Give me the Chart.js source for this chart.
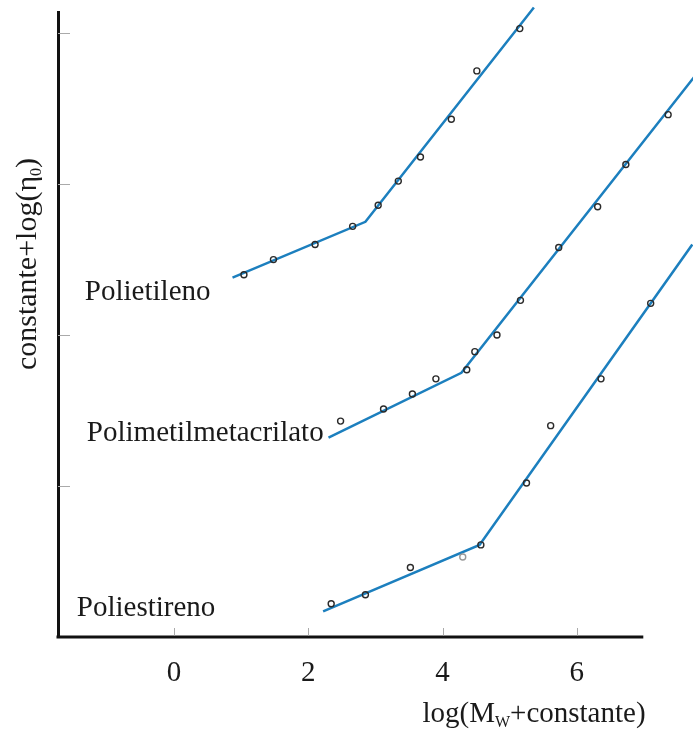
<!DOCTYPE html>
<html lang="es">
<head>
    <meta charset="UTF-8">
    <title>Viscosidad vs peso molecular</title>
    <script src="https://cdn.jsdelivr.net/npm/chart.js"></script>
    <style>
        body { margin: 0; background: #fff; }
        #wrap { width: 693px; height: 735px; }
    </style>
</head>
<body>

<div id="wrap">
    <canvas id="grafico" width="693" height="735"></canvas>
</div>

<script>
    // rectas ajustadas (inicio, quiebre, final)
    const peLineaX = [0.87, 2.85, 5.36];
    const peLineaY = [2.38, 2.75, 4.17];
    const pmmaLineaX = [2.30, 4.28, 7.75];
    const pmmaLineaY = [1.32, 1.75, 3.71];
    const psLineaX = [2.22, 4.55, 7.72];
    const psLineaY = [0.17, 0.61, 2.60];

    // puntos experimentales
    const pePuntosX = [1.04, 1.48, 2.10, 2.66, 3.04, 3.34, 3.67, 4.13, 4.51, 5.15];
    const pePuntosY = [2.40, 2.50, 2.60, 2.72, 2.86, 3.02, 3.18, 3.43, 3.75, 4.03];
    const pmmaPuntosX = [2.48, 3.12, 3.55, 3.90, 4.36, 4.48, 4.81, 5.16, 5.73, 6.31, 6.73, 7.36];
    const pmmaPuntosY = [1.43, 1.51, 1.61, 1.71, 1.77, 1.89, 2.00, 2.23, 2.58, 2.85, 3.13, 3.46];
    const psPuntosX = [2.34, 2.85, 3.52, 4.30, 4.57, 5.25, 5.61, 6.36, 7.10];
    const psPuntosY = [0.22, 0.28, 0.46, 0.53, 0.61, 1.02, 1.40, 1.71, 2.21];

    const xTicks = [0, 2, 4, 6];
    const yTicks = [1, 2, 3, 4];
    const xFinEje = 6.99; // donde termina la linea del eje x

    const nombres = ['Polietileno', 'Polimetilmetacrilato', 'Poliestireno'];
    const nombresX = [-1.33, -1.30, -1.45];
    const nombresY = [2.23, 1.30, 0.14];

    const azul = '#1c7fbe';
    const fuente = '"Liberation Serif", "Times New Roman", serif';

    function pares(xs, ys) {
        return xs.map((x, i) => ({ x: x, y: ys[i] }));
    }

    function linea(xs, ys) {
        return {
            data: pares(xs, ys),
            showLine: true,
            borderColor: azul,
            borderWidth: 2.5,
            pointRadius: 0,
            clip: false,
            order: 2
        };
    }

    function puntos(xs, ys, claro) {
        return {
            data: pares(xs, ys),
            showLine: false,
            pointRadius: 3,
            pointBorderWidth: 1.4,
            pointBorderColor: ctx => (claro === ctx.dataIndex ? '#999' : '#2a2a2a'),
            pointBackgroundColor: 'rgba(0,0,0,0)',
            clip: false,
            order: 1
        };
    }

    // eje x, marcas, nombres de las series y titulos de los ejes
    const extras = {
        id: 'extras',
        afterDraw(chart) {
            const ctx = chart.ctx;
            const sx = chart.scales.x, sy = chart.scales.y;
            const area = chart.chartArea;
            ctx.save();

            ctx.strokeStyle = '#111';
            ctx.lineWidth = 3;
            ctx.beginPath();
            ctx.moveTo(area.left - 1.5, area.bottom);
            ctx.lineTo(sx.getPixelForValue(xFinEje), area.bottom);
            ctx.stroke();

            ctx.strokeStyle = '#aaa';
            ctx.lineWidth = 1;
            xTicks.forEach(v => {
                const px = Math.round(sx.getPixelForValue(v)) + 0.5;
                ctx.beginPath();
                ctx.moveTo(px, area.bottom - 1.5);
                ctx.lineTo(px, area.bottom - 9);
                ctx.stroke();
            });
            yTicks.forEach(v => {
                const py = Math.round(sy.getPixelForValue(v)) + 0.5;
                ctx.beginPath();
                ctx.moveTo(area.left, py);
                ctx.lineTo(area.left + 12, py);
                ctx.stroke();
            });

            ctx.fillStyle = '#1a1a1a';
            ctx.font = '29px ' + fuente;
            ctx.textBaseline = 'alphabetic';
            ctx.textAlign = 'left';
            nombres.forEach((n, i) => {
                ctx.fillText(n, sx.getPixelForValue(nombresX[i]), sy.getPixelForValue(nombresY[i]));
            });

            // titulo eje x: log(M_W+constante)
            const partesX = [['log(M', 29, 0], ['W', 16, 5], ['+constante)', 29, 0]];
            dibujarTitulo(ctx, partesX, 534, 722);

            // titulo eje y: constante+log(η0)
            ctx.save();
            ctx.translate(36, 264);
            ctx.rotate(-Math.PI / 2);
            const partesY = [['constante+log(η', 30, 0], ['0', 16, 5], [')', 30, 0]];
            dibujarTitulo(ctx, partesY, 0, 0);
            ctx.restore();

            ctx.restore();
        }
    };

    function dibujarTitulo(ctx, partes, cx, base) {
        let total = 0;
        partes.forEach(p => {
            ctx.font = p[1] + 'px ' + fuente;
            total += ctx.measureText(p[0]).width;
        });
        let x = cx - total / 2;
        ctx.textAlign = 'left';
        partes.forEach(p => {
            ctx.font = p[1] + 'px ' + fuente;
            ctx.fillText(p[0], x, base + p[2]);
            x += ctx.measureText(p[0]).width;
        });
    }

    new Chart(document.getElementById('grafico'), {
        type: 'scatter',
        data: {
            datasets: [
                linea(peLineaX, peLineaY),
                linea(pmmaLineaX, pmmaLineaY),
                linea(psLineaX, psLineaY),
                puntos(pePuntosX, pePuntosY, -1),
                puntos(pmmaPuntosX, pmmaPuntosY, -1),
                puntos(psPuntosX, psPuntosY, 3)
            ]
        },
        options: {
            responsive: false,
            animation: false,
            layout: { padding: { left: 58, top: 12, right: 0, bottom: 0 } },
            plugins: { legend: { display: false }, tooltip: { enabled: false } },
            scales: {
                x: {
                    type: 'linear',
                    min: -1.73,
                    max: 7.65,
                    afterBuildTicks: s => { s.ticks = xTicks.map(v => ({ value: v })); },
                    afterFit: s => { s.height = 98; },
                    grid: { display: false, drawTicks: false },
                    border: { display: false },
                    ticks: { padding: 19, color: '#1a1a1a', font: { family: fuente, size: 29 } }
                },
                y: {
                    type: 'linear',
                    min: 0,
                    max: 4.14,
                    afterFit: s => { s.width = 0; },
                    grid: { display: false, drawTicks: false },
                    border: { display: true, color: '#111', width: 3 },
                    ticks: { display: false }
                }
            }
        },
        plugins: [extras]
    });
</script>

</body>
</html>
